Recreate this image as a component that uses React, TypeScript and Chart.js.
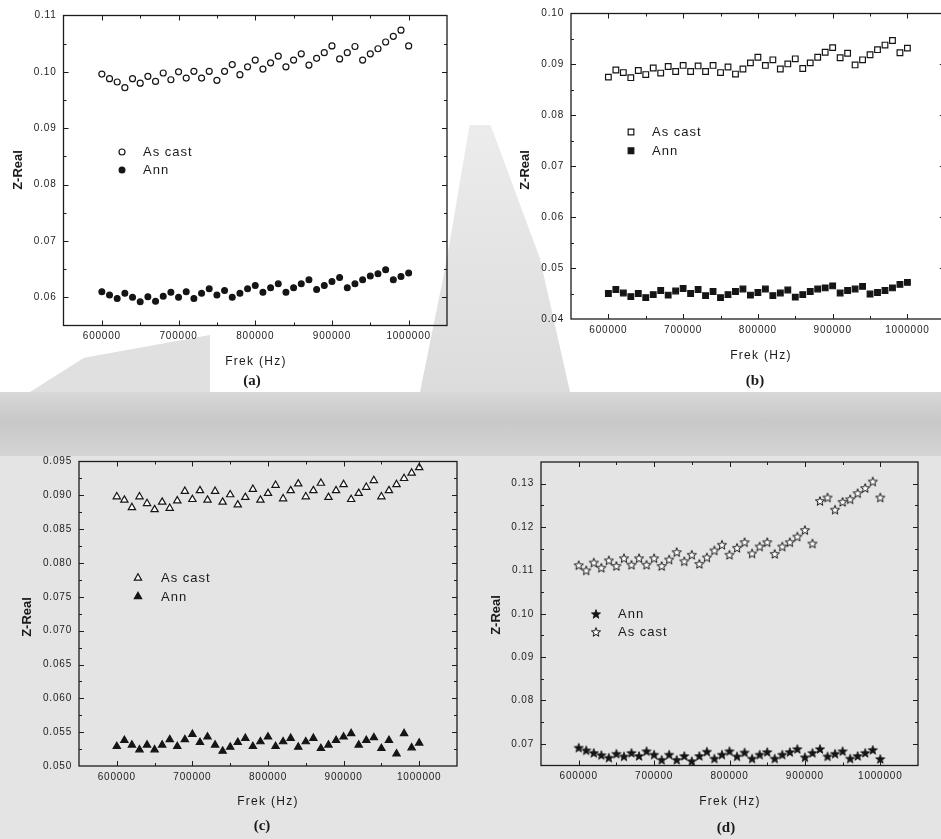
import React, { useEffect, useRef } from 'react';
import { Chart, registerables } from 'chart.js';
Chart.register(...registerables);

// ---------------- data ----------------
const FREQ = [
  600000, 610000, 620000, 630000, 640000, 650000, 660000, 670000, 680000, 690000,
  700000, 710000, 720000, 730000, 740000, 750000, 760000, 770000, 780000, 790000,
  800000, 810000, 820000, 830000, 840000, 850000, 860000, 870000, 880000, 890000,
  900000, 910000, 920000, 930000, 940000, 950000, 960000, 970000, 980000, 990000,
  1000000,
];

// (a) circles
const A_ASCAST = [
  0.0996, 0.0988, 0.0982, 0.0972, 0.0988, 0.0980, 0.0992, 0.0983, 0.0998, 0.0986,
  0.1000, 0.0989, 0.1001, 0.0989, 0.1001, 0.0985, 0.1001, 0.1013, 0.0995, 0.1009,
  0.1021, 0.1005, 0.1016, 0.1028, 0.1009, 0.1021, 0.1032, 0.1012, 0.1024, 0.1034,
  0.1046, 0.1023, 0.1034, 0.1045, 0.1021, 0.1032, 0.1041, 0.1053, 0.1063, 0.1074,
  0.1046,
];
const A_ANN = [
  0.0610, 0.0604, 0.0598, 0.0607, 0.0600, 0.0592, 0.0601, 0.0593, 0.0602, 0.0609,
  0.0600, 0.0610, 0.0598, 0.0607, 0.0615, 0.0604, 0.0612, 0.0600, 0.0607, 0.0615,
  0.0621, 0.0609, 0.0617, 0.0624, 0.0609, 0.0617, 0.0624, 0.0631, 0.0614, 0.0621,
  0.0628, 0.0635, 0.0617, 0.0624, 0.0631, 0.0638, 0.0642, 0.0649, 0.0631, 0.0637,
  0.0643,
];

// (b) squares
const B_ASCAST = [
  0.0875, 0.0889, 0.0884, 0.0874, 0.0888, 0.0880, 0.0893, 0.0883, 0.0896, 0.0886,
  0.0898, 0.0886, 0.0897, 0.0886, 0.0898, 0.0884, 0.0895, 0.0881, 0.0891, 0.0903,
  0.0914, 0.0898, 0.0909, 0.0891, 0.0901, 0.0911, 0.0892, 0.0903, 0.0914, 0.0924,
  0.0933, 0.0913, 0.0922, 0.0899, 0.0909, 0.0919, 0.0929, 0.0938, 0.0947, 0.0923,
  0.0932,
];
const B_ANN = [
  0.0450, 0.0458, 0.0451, 0.0444, 0.0450, 0.0442, 0.0448, 0.0456, 0.0447, 0.0455,
  0.0460, 0.0450, 0.0458, 0.0446, 0.0454, 0.0442, 0.0448, 0.0454, 0.0459, 0.0447,
  0.0452, 0.0459, 0.0446, 0.0451, 0.0457, 0.0443, 0.0448, 0.0454, 0.0459, 0.0461,
  0.0465, 0.0451, 0.0456, 0.0459, 0.0464, 0.0449, 0.0452, 0.0456, 0.0461, 0.0468,
  0.0472,
];

// (c) triangles
const C_ASCAST = [
  0.0898, 0.0893, 0.0882, 0.0898, 0.0888, 0.0879, 0.0890, 0.0881, 0.0892, 0.0906,
  0.0894, 0.0907, 0.0893, 0.0906, 0.0890, 0.0901, 0.0886, 0.0897, 0.0909, 0.0893,
  0.0903, 0.0915, 0.0895, 0.0907, 0.0917, 0.0898, 0.0907, 0.0918, 0.0897, 0.0907,
  0.0916, 0.0894, 0.0903, 0.0912, 0.0922, 0.0898, 0.0907, 0.0916, 0.0925, 0.0933,
  0.0941,
];
const C_ANN = [
  0.0529, 0.0538, 0.0531, 0.0524, 0.0531, 0.0524, 0.0531, 0.0539, 0.0529, 0.0539,
  0.0547, 0.0535, 0.0543, 0.0531, 0.0522, 0.0528, 0.0535, 0.0541, 0.0529, 0.0536,
  0.0543, 0.0529, 0.0536, 0.0541, 0.0528, 0.0536, 0.0541, 0.0526, 0.0531, 0.0538,
  0.0543, 0.0548, 0.0531, 0.0538, 0.0542, 0.0526, 0.0538, 0.0518, 0.0548, 0.0527,
  0.0534,
];

// (d) stars
const D_ASCAST = [
  0.1112, 0.1100, 0.1118, 0.1106, 0.1123, 0.1110, 0.1128, 0.1113, 0.1128, 0.1113,
  0.1128, 0.1110, 0.1125, 0.1142, 0.1121, 0.1136, 0.1115, 0.1130, 0.1146, 0.1159,
  0.1136, 0.1152, 0.1165, 0.1139, 0.1155, 0.1165, 0.1138, 0.1155, 0.1165, 0.1178,
  0.1193, 0.1162, 0.1260, 0.1268, 0.1240, 0.1258, 0.1264, 0.1278, 0.1290, 0.1305,
  0.1268,
];
const D_ANN = [
  0.0691, 0.0685, 0.0679, 0.0674, 0.0668, 0.0677, 0.0671, 0.0679, 0.0672, 0.0683,
  0.0675, 0.0663, 0.0675, 0.0663, 0.0672, 0.0660, 0.0672, 0.0682, 0.0666, 0.0675,
  0.0683, 0.0671, 0.0680, 0.0666, 0.0675, 0.0681, 0.0666, 0.0675, 0.0681, 0.0688,
  0.0669, 0.0679, 0.0688, 0.0671, 0.0677, 0.0683, 0.0666, 0.0672, 0.0679, 0.0686,
  0.0665,
];

const X_TICKS = [600000, 700000, 800000, 900000, 1000000];
const Y_TICKS_A = [0.06, 0.07, 0.08, 0.09, 0.10, 0.11];
const Y_TICKS_B = [0.04, 0.05, 0.06, 0.07, 0.08, 0.09, 0.10];
const Y_TICKS_C = [0.05, 0.055, 0.06, 0.065, 0.07, 0.075, 0.08, 0.085, 0.09, 0.095];
const Y_TICKS_D = [0.07, 0.08, 0.09, 0.10, 0.11, 0.12, 0.13];

const X_LABEL = 'Frek (Hz)';
const Y_LABEL = 'Z-Real';
const LBL_ASCAST = 'As cast';
const LBL_ANN = 'Ann';

// ---------------- layout ----------------
type Shape = 'circle' | 'rect' | 'triangle' | 'star';
type Series = { label: string; values: number[]; shape: Shape; filled: boolean; radius: number };
type Panel = {
  box: { x: number; y: number; w: number; h: number };
  area: { l: number; t: number; r: number; b: number };
  yMin: number; yMax: number; yTicks: number[]; yDec: number;
  series: Series[];
  legend: { mx: number; tx: number; y0: number; dy: number };
  yTitle: { x: number; y: number };
  xTitle: { x: number; y: number };
  tag: { text: string; x: number; y: number };
};

const PANELS: Panel[] = [
  {
    box: { x: 0, y: 0, w: 470, h: 395 },
    area: { l: 63.5, t: 15.5, r: 447, b: 325.5 },
    yMin: 0.055, yMax: 0.11, yTicks: Y_TICKS_A, yDec: 2,
    series: [
      { label: LBL_ASCAST, values: A_ASCAST, shape: 'circle', filled: false, radius: 3 },
      { label: LBL_ANN, values: A_ANN, shape: 'circle', filled: true, radius: 2.9 },
    ],
    legend: { mx: 122, tx: 143, y0: 152, dy: 18 },
    yTitle: { x: 18, y: 170 },
    xTitle: { x: 256, y: 362 },
    tag: { text: '(a)', x: 252, y: 381 },
  },
  {
    box: { x: 480, y: 0, w: 470, h: 395 },
    area: { l: 571, t: 13.5, r: 950, b: 319 },
    yMin: 0.04, yMax: 0.10, yTicks: Y_TICKS_B, yDec: 2,
    series: [
      { label: LBL_ASCAST, values: B_ASCAST, shape: 'rect', filled: false, radius: 4 },
      { label: LBL_ANN, values: B_ANN, shape: 'rect', filled: true, radius: 4 },
    ],
    legend: { mx: 631, tx: 652, y0: 132, dy: 18.7 },
    yTitle: { x: 525, y: 170 },
    xTitle: { x: 761, y: 356 },
    tag: { text: '(b)', x: 755, y: 381 },
  },
  {
    box: { x: 0, y: 440, w: 475, h: 399 },
    area: { l: 79, t: 461.5, r: 457, b: 766 },
    yMin: 0.05, yMax: 0.095, yTicks: Y_TICKS_C, yDec: 3,
    series: [
      { label: LBL_ASCAST, values: C_ASCAST, shape: 'triangle', filled: false, radius: 4.2 },
      { label: LBL_ANN, values: C_ANN, shape: 'triangle', filled: true, radius: 4.2 },
    ],
    legend: { mx: 138, tx: 161, y0: 578, dy: 18.5 },
    yTitle: { x: 27, y: 617 },
    xTitle: { x: 268, y: 802 },
    tag: { text: '(c)', x: 262, y: 826 },
  },
  {
    box: { x: 475, y: 440, w: 466, h: 399 },
    area: { l: 541, t: 462, r: 918, b: 765.5 },
    yMin: 0.065, yMax: 0.135, yTicks: Y_TICKS_D, yDec: 2,
    series: [
      { label: LBL_ANN, values: D_ANN, shape: 'star', filled: true, radius: 4 },
      { label: LBL_ASCAST, values: D_ASCAST, shape: 'star', filled: false, radius: 4 },
    ],
    legend: { mx: 596, tx: 618, y0: 614, dy: 18 },
    yTitle: { x: 496, y: 615 },
    xTitle: { x: 730, y: 802 },
    tag: { text: '(d)', x: 726, y: 828 },
  },
];

const INK = '#151515';

function makeStar(filled: boolean): HTMLCanvasElement {
  const c = document.createElement('canvas');
  c.width = 12;
  c.height = 12;
  const g = c.getContext('2d')!;
  g.beginPath();
  for (let k = 0; k < 10; k++) {
    const r = k % 2 === 0 ? 4.8 : 2.0;
    const a = -Math.PI / 2 + (k * Math.PI) / 5;
    const px = 6 + r * Math.cos(a);
    const py = 6.4 + r * Math.sin(a);
    if (k === 0) g.moveTo(px, py);
    else g.lineTo(px, py);
  }
  g.closePath();
  g.fillStyle = filled ? INK : '#ffffff';
  g.fill();
  g.strokeStyle = INK;
  g.lineWidth = filled ? 0.8 : 1;
  g.stroke();
  return c;
}

function drawMarker(ctx: CanvasRenderingContext2D, s: Series, x: number, y: number, star: HTMLCanvasElement | null) {
  ctx.save();
  ctx.lineWidth = 1.2;
  ctx.strokeStyle = INK;
  ctx.fillStyle = s.filled ? INK : '#ffffff';
  const r = s.radius;
  ctx.beginPath();
  if (s.shape === 'circle') {
    ctx.arc(x, y, r, 0, Math.PI * 2);
  } else if (s.shape === 'rect') {
    const h = r * Math.SQRT1_2;
    ctx.rect(x - h, y - h, 2 * h, 2 * h);
  } else if (s.shape === 'triangle') {
    for (let k = 0; k < 3; k++) {
      const a = (k * 2 * Math.PI) / 3;
      const px = x + Math.sin(a) * r;
      const py = y - Math.cos(a) * r;
      if (k === 0) ctx.moveTo(px, py);
      else ctx.lineTo(px, py);
    }
    ctx.closePath();
  }
  if (s.shape === 'star' && star) {
    ctx.drawImage(star, x - star.width / 2, y - star.height / 2);
  } else {
    ctx.fill();
    ctx.stroke();
  }
  ctx.restore();
}

function mids(v: number[]): number[] {
  const out: number[] = [];
  for (let i = 0; i + 1 < v.length; i++) out.push((v[i] + v[i + 1]) / 2);
  return out;
}

function PanelChart({ p }: { p: Panel }) {
  const ref = useRef<HTMLCanvasElement | null>(null);
  useEffect(() => {
    const canvas = ref.current!;
    const stars = p.series.map((s) => (s.shape === 'star' ? makeStar(s.filled) : null));
    const ox = p.box.x;
    const oy = p.box.y;
    const framePlugin = {
      id: 'frame',
      beforeDraw(chart: any) {
        (chart.ctx as any).letterSpacing = '0.8px';
      },
      afterDraw(chart: any) {
        const ctx: CanvasRenderingContext2D = chart.ctx;
        const { left, right, top, bottom } = chart.chartArea;
        const xs = chart.scales.x;
        const ys = chart.scales.y;
        ctx.save();
        (ctx as any).letterSpacing = '0px';
        ctx.strokeStyle = '#1c1c1c';
        ctx.lineWidth = 1.3;
        ctx.strokeRect(left, top, right - left, bottom - top);
        ctx.lineWidth = 1;
        ctx.beginPath();
        const xTick = (v: number, len: number) => {
          const px = Math.round(xs.getPixelForValue(v)) + 0.5;
          ctx.moveTo(px, bottom);
          ctx.lineTo(px, bottom - len);
          ctx.moveTo(px, top);
          ctx.lineTo(px, top + len);
        };
        const yTick = (v: number, len: number) => {
          const py = Math.round(ys.getPixelForValue(v)) + 0.5;
          ctx.moveTo(left, py);
          ctx.lineTo(left + len, py);
          ctx.moveTo(right, py);
          ctx.lineTo(right - len, py);
        };
        X_TICKS.forEach((v) => xTick(v, 5));
        mids(X_TICKS).forEach((v) => xTick(v, 3));
        p.yTicks.forEach((v) => {
          if (v > p.yMin && v < p.yMax) yTick(v, 5);
        });
        mids(p.yTicks).forEach((v) => yTick(v, 3));
        ctx.stroke();

        // axis titles
        ctx.fillStyle = '#1a1a1a';
        ctx.textBaseline = 'middle';
        ctx.textAlign = 'center';
        (ctx as any).letterSpacing = '1.3px';
        ctx.font = '12px "Liberation Sans", Arial, sans-serif';
        ctx.fillText(X_LABEL, p.xTitle.x - ox, p.xTitle.y - oy);
        (ctx as any).letterSpacing = '0px';
        ctx.save();
        ctx.translate(p.yTitle.x - ox, p.yTitle.y - oy);
        ctx.rotate(-Math.PI / 2);
        ctx.font = 'bold 13px "Liberation Sans", Arial, sans-serif';
        ctx.fillText(Y_LABEL, 0, 0);
        ctx.restore();
        ctx.font = 'bold 15px "Liberation Serif", "Times New Roman", serif';
        ctx.fillText(p.tag.text, p.tag.x - ox, p.tag.y - oy);

        // legend
        ctx.textAlign = 'left';
        ctx.font = '13px "Liberation Sans", Arial, sans-serif';
        (ctx as any).letterSpacing = '1px';
        p.series.forEach((s, i) => {
          const y = p.legend.y0 + i * p.legend.dy - oy;
          drawMarker(ctx, s, p.legend.mx - ox, y, stars[i]);
          ctx.fillStyle = '#1a1a1a';
          ctx.fillText(s.label, p.legend.tx - ox, y + 0.5);
        });
        ctx.restore();
      },
    };

    const chart = new Chart(canvas, {
      type: 'scatter',
      data: {
        datasets: p.series.map((s, i) => ({
          label: s.label,
          data: FREQ.map((f, k) => ({ x: f, y: s.values[k] })),
          pointStyle: (s.shape === 'star' ? stars[i] : s.shape) as any,
          pointRadius: s.radius,
          pointHoverRadius: s.radius,
          borderWidth: 1.2,
          borderColor: INK,
          backgroundColor: s.filled ? INK : '#ffffff',
          showLine: false,
        })),
      },
      options: {
        responsive: false,
        animation: false,
        devicePixelRatio: 1,
        events: [],
        layout: {
          padding: {
            left: 0,
            top: p.area.t - p.box.y,
            right: p.box.x + p.box.w - p.area.r,
            bottom: 0,
          },
        },
        plugins: { legend: { display: false }, tooltip: { enabled: false } },
        scales: {
          x: {
            type: 'linear',
            min: 550000,
            max: 1050000,
            grid: { display: false, drawTicks: false },
            border: { display: false },
            afterBuildTicks: (s: any) => {
              s.ticks = X_TICKS.map((v) => ({ value: v }));
            },
            afterFit: (s: any) => {
              s.height = p.box.y + p.box.h - p.area.b;
            },
            ticks: {
              autoSkip: false,
              maxRotation: 0,
              padding: 5,
              color: '#222',
              font: { family: '"Liberation Sans", Arial, sans-serif', size: 10 },
              callback: (v: any) => String(v),
            },
          },
          y: {
            type: 'linear',
            min: p.yMin,
            max: p.yMax,
            grid: { display: false, drawTicks: false },
            border: { display: false },
            afterBuildTicks: (s: any) => {
              s.ticks = p.yTicks.map((v) => ({ value: v }));
            },
            afterFit: (s: any) => {
              s.width = p.area.l - p.box.x;
            },
            ticks: {
              autoSkip: false,
              padding: 7,
              color: '#222',
              font: { family: '"Liberation Sans", Arial, sans-serif', size: 10 },
              callback: (v: any) => Number(v).toFixed(p.yDec),
            },
          },
        },
      },
      plugins: [framePlugin],
    } as any);
    return () => chart.destroy();
  }, [p]);
  return (
    <canvas
      ref={ref}
      width={p.box.w}
      height={p.box.h}
      style={{ position: 'absolute', left: p.box.x, top: p.box.y, width: p.box.w, height: p.box.h }}
    />
  );
}

export default function App() {
  return (
    <div
      style={{
        position: 'fixed',
        left: 0,
        top: 0,
        width: 941,
        height: 839,
        overflow: 'hidden',
        background: '#ffffff',
      }}
    >
      {/* faint scanned watermark tones */}
      <div style={{ position: 'absolute', left: 0, top: 455, width: 941, height: 384, background: '#e4e4e4' }} />
      <div
        style={{
          position: 'absolute',
          left: 0,
          top: 392,
          width: 941,
          height: 64,
          background: 'linear-gradient(to bottom, #d8d8d8, #c8c8c8 45%, #d4d4d4)',
        }}
      />
      <div
        style={{
          position: 'absolute',
          left: 420,
          top: 125,
          width: 150,
          height: 267,
          background: 'linear-gradient(to bottom, #ececec, #dcdcdc)',
          clipPath: 'polygon(33% 0%, 47% 0%, 80% 50%, 100% 100%, 0% 100%, 18% 50%)',
        }}
      />
      <div
        style={{
          position: 'absolute',
          left: 30,
          top: 335,
          width: 180,
          height: 57,
          background: '#e0e0e0',
          clipPath: 'polygon(100% 0%, 100% 100%, 0% 100%, 30% 40%)',
        }}
      />
      {PANELS.map((p, i) => (
        <PanelChart key={i} p={p} />
      ))}
    </div>
  );
}
